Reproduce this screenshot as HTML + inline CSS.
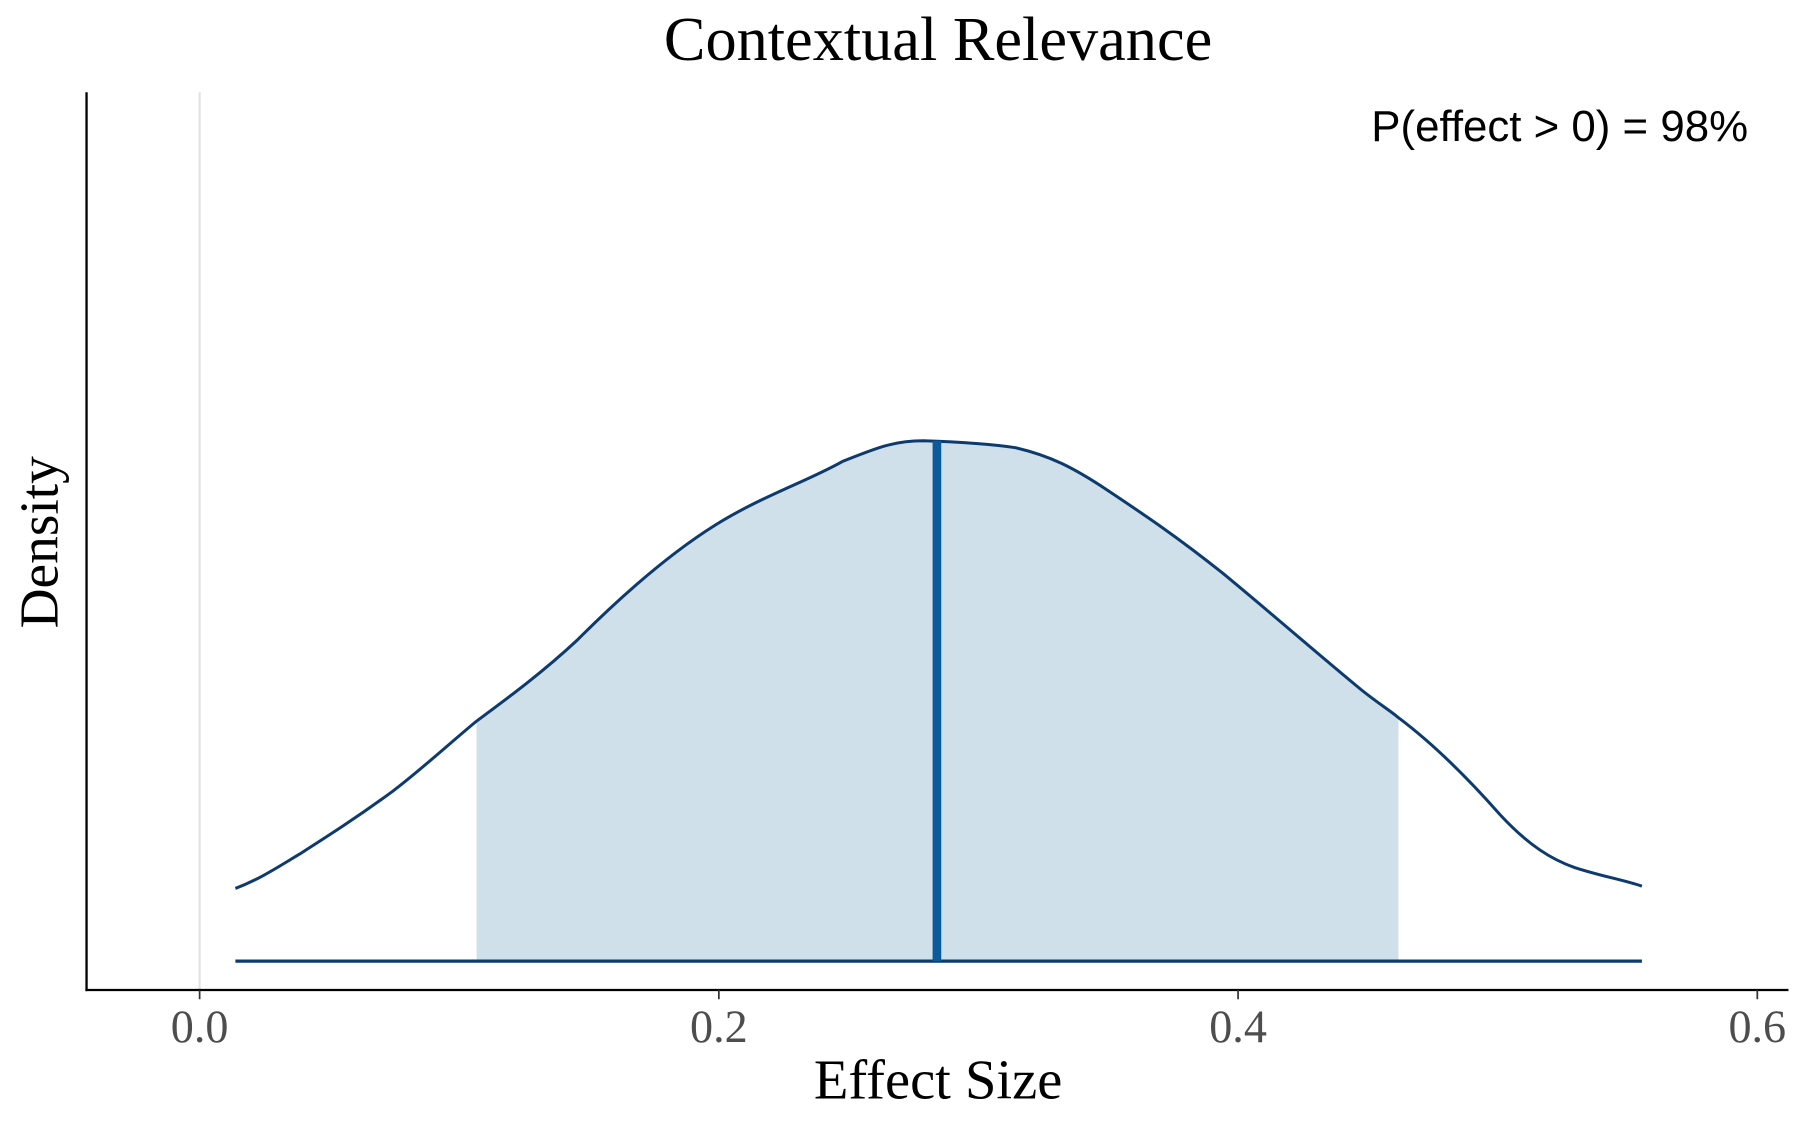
<!DOCTYPE html>
<html><head><meta charset="utf-8"><style>html,body{margin:0;padding:0;background:#fff;}svg{display:block;}</style></head>
<body>
<svg width="1800" height="1125" viewBox="0 0 1560 975" xmlns="http://www.w3.org/2000/svg">
<rect width="1560" height="975" fill="#fff"/>
<line x1="173" y1="80" x2="173" y2="858" stroke="#e3e3e3" stroke-width="2"/>
<path d="M413,833 L413,625 C440,605 470,583 500,555 C540,515 580,480 620,455 C660,430 700,417 730,400 C760,388 775,382 800,382 C830,383 860,385 880,388 C910,395 930,405 960,425 C990,445 1020,465 1060,497 C1100,530 1140,565 1180,598 L1212,622 L1212,833 Z" fill="#d0e0eb"/>
<path d="M204,770 C225,762 240,752 260,740 C285,724 310,708 340,686 C365,667 390,644 413,625 C440,605 470,583 500,555 C540,515 580,480 620,455 C660,430 700,417 730,400 C760,388 775,382 800,382 C830,383 860,385 880,388 C910,395 930,405 960,425 C990,445 1020,465 1060,497 C1100,530 1140,565 1180,598 C1195,610 1205,616 1212,622 C1240,643 1270,672 1300,706 C1325,733 1345,745 1365,752 C1390,760 1405,762 1423,768" fill="none" stroke="#0d3b6e" stroke-width="2.6"/>
<line x1="204" y1="833" x2="1423" y2="833" stroke="#0d3b6e" stroke-width="2.8"/>
<line x1="812" y1="382" x2="812" y2="833" stroke="#0a5a9c" stroke-width="7.5"/>
<line x1="75" y1="80" x2="75" y2="859" stroke="#000" stroke-width="2"/>
<line x1="74" y1="858" x2="1550" y2="858" stroke="#000" stroke-width="2"/>
<g stroke="#333" stroke-width="1.5">
<line x1="173" y1="858" x2="173" y2="866"/><line x1="623" y1="858" x2="623" y2="866"/><line x1="1073" y1="858" x2="1073" y2="866"/><line x1="1523" y1="858" x2="1523" y2="866"/>
</g>
<g font-family="Liberation Serif, serif" font-size="40" fill="#4d4d4d" text-anchor="middle">
<text x="173" y="903">0.0</text><text x="623" y="903">0.2</text><text x="1073" y="903">0.4</text><text x="1523" y="903">0.6</text>
</g>
<text x="813" y="52" font-family="Liberation Serif, serif" font-size="54" text-anchor="middle" fill="#000">Contextual Relevance</text>
<text x="813" y="952" font-family="Liberation Serif, serif" font-size="49" text-anchor="middle" fill="#000">Effect Size</text>
<text transform="translate(50,470) rotate(-90)" font-family="Liberation Serif, serif" font-size="48" text-anchor="middle" fill="#000">Density</text>
<text x="1515" y="122" font-family="Liberation Sans, sans-serif" font-size="38" text-anchor="end" fill="#000">P(effect &gt; 0) = 98%</text>
</svg>
</body></html>
